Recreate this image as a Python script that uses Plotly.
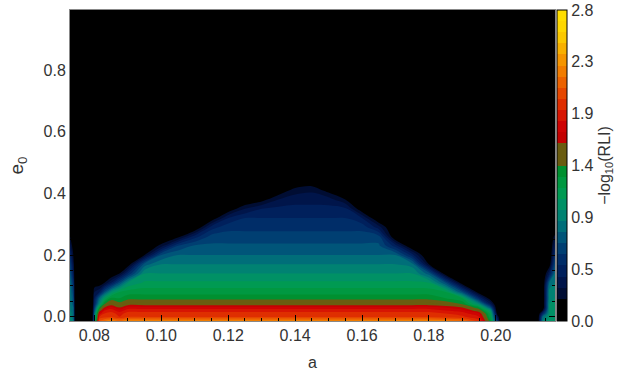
import plotly.graph_objects as go

# a (semi-major axis) sample columns
a_vals = [0.0727, 0.0737, 0.0742, 0.0793, 0.0800, 0.0815, 0.0830, 0.0850, 0.0875, 0.0900,
          0.0950, 0.1000, 0.1050, 0.1100, 0.1150, 0.1200, 0.1250, 0.1300, 0.1350, 0.1400,
          0.1450, 0.1500, 0.1550, 0.1600, 0.1650, 0.1700, 0.1750, 0.1800, 0.1850, 0.1900,
          0.1950, 0.1985, 0.2005, 0.2015, 0.2125, 0.2140, 0.2160, 0.2177]

# e0 sample rows
e_vals = [-0.014, 0.0, 0.01, 0.02, 0.03, 0.04, 0.06, 0.08, 0.11, 0.14, 0.17,
          0.20, 0.23, 0.26, 0.29, 0.32, 0.35, 0.38, 0.41, 0.44, 0.50, 0.995]

Z0 = [0] * 22
# -log10(RLI) read per a-column (bottom -> top along e_vals)
col_values = [
    [1.0, 0.95, 0.95, 0.92, 0.92, 0.9, 0.9, 0.88, 0.85, 0.75, 0.65, 0.5, 0.35, 0.2, 0, 0, 0, 0, 0, 0, 0, 0],
    [0.9, 0.85, 0.85, 0.8, 0.8, 0.75, 0.7, 0.65, 0.55, 0.4, 0.3, 0.2, 0.1, 0, 0, 0, 0, 0, 0, 0, 0, 0],
    Z0,
    Z0,
    [0.9, 0.85, 0.8, 0.7, 0.6, 0.5, 0.4, 0.3, 0.1, 0, 0, 0, 0, 0, 0, 0, 0, 0, 0, 0, 0, 0],
    [2.1, 1.9, 1.75, 1.5, 1.3, 1.0, 0.8, 0.4, 0.1, 0, 0, 0, 0, 0, 0, 0, 0, 0, 0, 0, 0, 0],
    [2.2, 1.95, 1.9, 1.8, 1.6, 1.4, 1.1, 0.7, 0.2, 0, 0, 0, 0, 0, 0, 0, 0, 0, 0, 0, 0, 0],
    [2.3, 1.98, 1.95, 1.85, 1.75, 1.55, 1.33, 1.0, 0.4, 0.05, 0, 0, 0, 0, 0, 0, 0, 0, 0, 0, 0, 0],
    [2.2, 1.9, 1.85, 1.75, 1.6, 1.45, 1.3, 1.2, 0.7, 0.2, 0, 0, 0, 0, 0, 0, 0, 0, 0, 0, 0, 0],
    [2.3, 1.98, 1.95, 1.85, 1.75, 1.55, 1.36, 1.25, 1.0, 0.5, 0.1, 0, 0, 0, 0, 0, 0, 0, 0, 0, 0, 0],
    [2.3, 1.98, 1.95, 1.85, 1.75, 1.55, 1.36, 1.26, 1.12, 1.0, 0.75, 0.2, 0, 0, 0, 0, 0, 0, 0, 0, 0, 0],
    [2.3, 1.98, 1.95, 1.85, 1.75, 1.55, 1.36, 1.26, 1.12, 1.0, 0.9, 0.7, 0.25, 0, 0, 0, 0, 0, 0, 0, 0, 0],
    [2.3, 1.98, 1.95, 1.85, 1.75, 1.55, 1.36, 1.26, 1.12, 1.0, 0.9, 0.8, 0.6, 0.15, 0, 0, 0, 0, 0, 0, 0, 0],
    [2.3, 1.98, 1.95, 1.85, 1.75, 1.55, 1.36, 1.26, 1.12, 1.0, 0.9, 0.8, 0.72, 0.45, 0.05, 0, 0, 0, 0, 0, 0, 0],
    [2.3, 1.98, 1.95, 1.85, 1.75, 1.55, 1.36, 1.26, 1.12, 1.0, 0.9, 0.8, 0.72, 0.64, 0.45, 0.1, 0, 0, 0, 0, 0, 0],
    [2.3, 1.98, 1.95, 1.85, 1.75, 1.55, 1.36, 1.26, 1.12, 1.0, 0.9, 0.8, 0.72, 0.64, 0.57, 0.4, 0.1, 0, 0, 0, 0, 0],
    [2.3, 1.98, 1.95, 1.85, 1.75, 1.55, 1.36, 1.26, 1.12, 1.0, 0.9, 0.8, 0.72, 0.64, 0.57, 0.5, 0.3, 0.05, 0, 0, 0, 0],
    [2.3, 1.98, 1.95, 1.85, 1.75, 1.55, 1.36, 1.26, 1.12, 1.0, 0.9, 0.8, 0.72, 0.64, 0.57, 0.5, 0.4, 0.15, 0, 0, 0, 0],
    [2.3, 1.98, 1.95, 1.85, 1.75, 1.55, 1.36, 1.26, 1.12, 1.0, 0.9, 0.8, 0.72, 0.64, 0.57, 0.5, 0.43, 0.3, 0.1, 0, 0, 0],
    [2.3, 1.98, 1.95, 1.85, 1.75, 1.55, 1.36, 1.26, 1.12, 1.0, 0.9, 0.8, 0.72, 0.64, 0.57, 0.5, 0.43, 0.36, 0.25, 0.05, 0, 0],
    [2.3, 1.98, 1.95, 1.85, 1.75, 1.55, 1.36, 1.26, 1.12, 1.0, 0.9, 0.8, 0.72, 0.64, 0.57, 0.5, 0.43, 0.36, 0.28, 0.1, 0, 0],
    [2.3, 1.98, 1.95, 1.85, 1.75, 1.55, 1.36, 1.26, 1.12, 1.0, 0.9, 0.8, 0.72, 0.64, 0.57, 0.5, 0.43, 0.35, 0.15, 0, 0, 0],
    [2.3, 1.98, 1.95, 1.85, 1.75, 1.55, 1.36, 1.26, 1.12, 1.0, 0.9, 0.8, 0.72, 0.64, 0.57, 0.5, 0.43, 0.2, 0, 0, 0, 0],
    [2.3, 1.98, 1.95, 1.85, 1.75, 1.55, 1.36, 1.26, 1.12, 1.0, 0.9, 0.8, 0.72, 0.64, 0.57, 0.4, 0.1, 0, 0, 0, 0, 0],
    [2.3, 1.98, 1.95, 1.85, 1.75, 1.55, 1.36, 1.26, 1.12, 1.0, 0.9, 0.8, 0.72, 0.64, 0.35, 0.05, 0, 0, 0, 0, 0, 0],
    [2.3, 1.98, 1.95, 1.85, 1.75, 1.55, 1.36, 1.26, 1.12, 1.0, 0.9, 0.8, 0.45, 0.05, 0, 0, 0, 0, 0, 0, 0, 0],
    [2.3, 1.98, 1.95, 1.85, 1.75, 1.55, 1.36, 1.26, 1.12, 1.0, 0.85, 0.45, 0.05, 0, 0, 0, 0, 0, 0, 0, 0, 0],
    [2.3, 1.98, 1.95, 1.85, 1.75, 1.55, 1.36, 1.26, 1.1, 0.75, 0.2, 0, 0, 0, 0, 0, 0, 0, 0, 0, 0, 0],
    [2.25, 1.95, 1.9, 1.8, 1.7, 1.5, 1.3, 1.2, 0.7, 0.1, 0, 0, 0, 0, 0, 0, 0, 0, 0, 0, 0, 0],
    [2.2, 1.92, 1.85, 1.75, 1.6, 1.4, 1.2, 0.7, 0.1, 0, 0, 0, 0, 0, 0, 0, 0, 0, 0, 0, 0, 0],
    [1.95, 1.8, 1.7, 1.5, 1.3, 1.0, 0.5, 0.1, 0, 0, 0, 0, 0, 0, 0, 0, 0, 0, 0, 0, 0, 0],
    [1.3, 1.2, 1.15, 1.0, 0.7, 0.4, 0.1, 0, 0, 0, 0, 0, 0, 0, 0, 0, 0, 0, 0, 0, 0, 0],
    [0.5, 0.3, 0.1, 0, 0, 0, 0, 0, 0, 0, 0, 0, 0, 0, 0, 0, 0, 0, 0, 0, 0, 0],
    Z0,
    Z0,
    [0.9, 0.8, 0.5, 0.2, 0, 0, 0, 0, 0, 0, 0, 0, 0, 0, 0, 0, 0, 0, 0, 0, 0, 0],
    [1.05, 1.05, 1.0, 1.0, 1.0, 1.0, 0.95, 0.95, 0.8, 0.4, 0.1, 0, 0, 0, 0, 0, 0, 0, 0, 0, 0, 0],
    [1.1, 1.05, 1.05, 1.05, 1.05, 1.0, 1.0, 0.95, 0.9, 0.85, 0.7, 0.55, 0.4, 0.25, 0, 0, 0, 0, 0, 0, 0, 0],
]

cbar_ticks = [0.0, 0.467, 0.933, 1.4, 1.867, 2.333, 2.795]
cbar_labels = ["0.0", "0.5", "0.9", "1.4", "1.9", "2.3", "2.8"]

# transpose to rows (e) x columns (a)
z = [[col_values[j][i] for j in range(len(a_vals))] for i in range(len(e_vals))]

zmax = 2.8
stops = [
    (0.00, "#000000"), (0.19, "#000000"), (0.22, "#000a2a"), (0.35, "#001448"),
    (0.45, "#001e5a"), (0.55, "#002a66"), (0.65, "#003a70"), (0.75, "#004e78"),
    (0.85, "#00687a"), (0.95, "#007c76"), (1.05, "#008c6c"), (1.15, "#00985a"),
    (1.25, "#009c48"), (1.40, "#009030"), (1.47, "#008a22"), (1.50, "#6a5c10"),
    (1.64, "#6a5c10"), (1.68, "#c00000"), (1.85, "#d20404"), (1.98, "#dc2400"),
    (2.10, "#e44000"), (2.22, "#ec6000"), (2.35, "#f28000"), (2.48, "#f6a000"),
    (2.62, "#fac400"), (2.80, "#ffde00"),
]
colorscale = [[v / zmax, c] for v, c in stops]

font_main = dict(family="Liberation Sans, Arial, sans-serif", size=16, color="#333333")

fig = go.Figure(go.Contour(
    x=a_vals, y=e_vals, z=z,
    zmin=0, zmax=zmax,
    colorscale=colorscale,
    contours=dict(start=0, end=2.8, size=0.1, coloring="fill", showlines=False),
    line=dict(width=0),
    colorbar=dict(
        x=1.004, xanchor="left", xpad=0, ypad=0, y=0.5, len=1, lenmode="fraction",
        thickness=10, outlinewidth=1, outlinecolor="#000000",
        tickvals=cbar_ticks, ticktext=cbar_labels, ticks="",
        ticklabeloverflow="allow",
        tickfont=font_main,
        title=dict(text="−log<sub>10</sub>(RLI)", side="right", font=font_main),
    ),
))

fig.update_layout(
    width=629, height=370,
    margin=dict(l=69.5, r=74, t=10, b=49, autoexpand=False),
    paper_bgcolor="white", plot_bgcolor="black",
    font=font_main,
    showlegend=False,
    annotations=[dict(text="a", xref="paper", yref="paper", x=0.5, y=-0.132,
                      xanchor="center", yanchor="middle", showarrow=False, font=font_main)],
)
fig.update_xaxes(
    range=[0.0727, 0.2177], tickvals=[0.08, 0.10, 0.12, 0.14, 0.16, 0.18, 0.20],
    ticktext=["0.08", "0.10", "0.12", "0.14", "0.16", "0.18", "0.20"],
    ticks="inside", ticklen=6, tickcolor="#000000", tickwidth=1,
    minor=dict(dtick=0.005, ticks="inside", ticklen=3, tickcolor="#000000"),
    showline=True, linecolor="#888888", mirror="allticks", showgrid=False, zeroline=False,
    tickfont=font_main, automargin=False,
)
fig.update_yaxes(
    range=[-0.014, 0.995], tickvals=[0.0, 0.2, 0.4, 0.6, 0.8],
    ticktext=["0.0", "0.2", "0.4", "0.6", "0.8"],
    ticks="inside", ticklen=6, tickcolor="#000000", tickwidth=1,
    minor=dict(dtick=0.05, ticks="inside", ticklen=3, tickcolor="#000000"),
    showline=True, linecolor="#888888", mirror="allticks", showgrid=False, zeroline=False,
    title=dict(text="e<sub>0</sub>", standoff=14), tickfont=font_main, automargin=False,
)

# remove the default 8px page margin so the figure sits at the page origin
fig.write_html("out.html", config={"displayModeBar": False},
               post_script="document.body.style.margin='0';")
